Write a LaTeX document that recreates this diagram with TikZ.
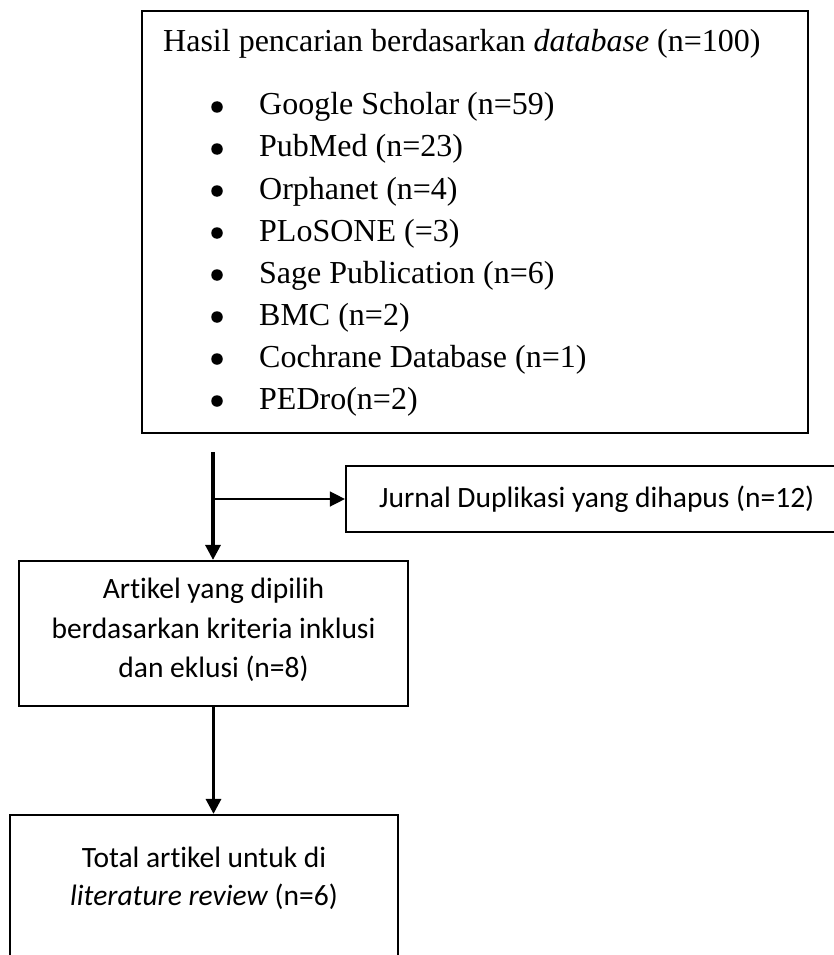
\documentclass[tikz,border=0pt]{standalone}
\usepackage{fontspec}
\setmainfont{Liberation Serif}
\newfontfamily\calibri[Ligatures=NoCommon]{Carlito}
\usetikzlibrary{arrows.meta}
\tikzset{
  box/.style={draw,line width=2.2pt,inner sep=0pt},
  mainarrow/.style={line width=3.2pt,-{Triangle[width=15pt,length=15pt]}},
  sidearrow/.style={line width=1.4pt,-{Triangle[width=15pt,length=15pt]}},
  serif/.style={font=\fontsize{32}{38}\selectfont,inner sep=0pt},
  sans/.style={font=\calibri\fontsize{29.5}{35}\selectfont,inner sep=0pt},
  dot/.style={circle,fill,inner sep=0pt,minimum size=11.5pt}
}
\begin{document}
\begin{tikzpicture}[x=1pt,y=-1pt]
\clip (0,0) rectangle (834,955);
\node[box,minimum width=666pt,minimum height=422pt] (search) at (475,222) {};
\node[serif,anchor=base west] (title) at (163,52) {Hasil pencarian berdasarkan \textit{database} (n=100)};
\foreach \db [count=\i from 0] in {Google Scholar (n=59),PubMed (n=23),Orphanet (n=4),PLoSONE (=3),Sage Publication (n=6),BMC (n=2),Cochrane Database (n=1),PEDro(n=2)}{
  \node[dot] (dot\i) at (217,{107+42*\i}) {};
  \node[serif,anchor=base west] (db\i) at (259,{115+42*\i}) {\db};
}
\node[box,minimum width=514pt,minimum height=66pt] (dupl) at (603,499) {};
\node[sans,anchor=base west] (dupltext) at (379,507) {Jurnal Duplikasi yang dihapus (n=12)};
\node[box,minimum width=389pt,minimum height=145pt] (pilih) at (213.5,633.5) {};
\node[sans,anchor=base] (pilih1) at (213.5,598) {Artikel yang dipilih};
\node[sans,anchor=base] (pilih2) at (213.5,638) {berdasarkan kriteria inklusi};
\node[sans,anchor=base] (pilih3) at (213.5,677) {dan eklusi (n=8)};
\node[box,minimum width=388pt,minimum height=185pt] (total) at (204,907.5) {};
\node[sans,anchor=base] (total1) at (204,867) {Total artikel untuk di};
\node[sans,anchor=base] (total2) at (204,905) {\textit{literature review} (n=6)};
\coordinate (start) at (213,452);
\coordinate (split) at (start |- dupl.west);
\draw[mainarrow] (start) -- (start |- pilih.north);
\draw[sidearrow] (split) -- (dupl.west);
\draw[mainarrow] (pilih.south) -- (pilih.south |- total.north);
\end{tikzpicture}
\end{document}
